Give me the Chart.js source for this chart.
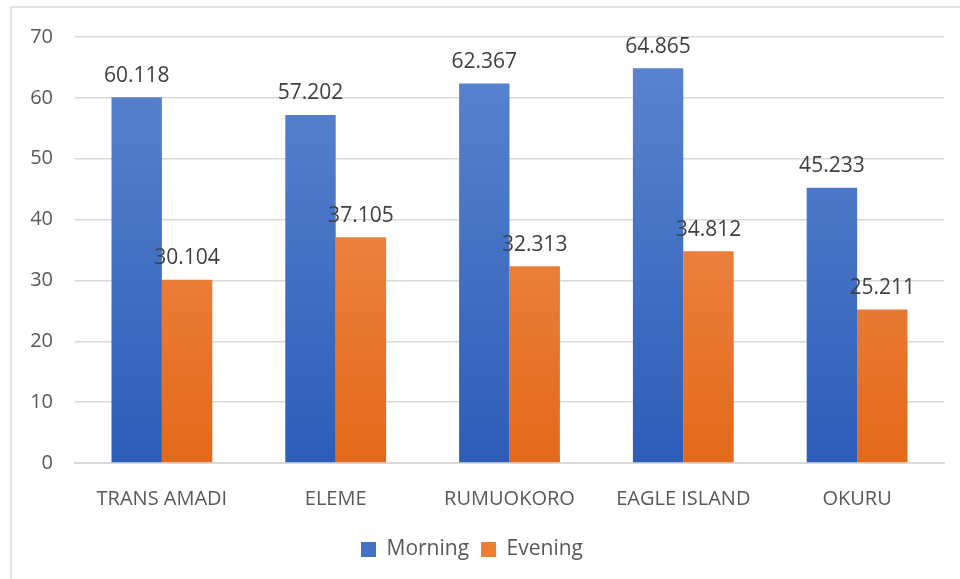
<!DOCTYPE html>
<html>
<head>
<meta charset="utf-8">
<script src="https://cdn.jsdelivr.net/npm/chart.js@4"></script>
<style>
  html, body { margin: 0; padding: 0; background: #fff; }
  #wrap { width: 960px; height: 579px; position: relative; }
</style>
</head>
<body>
<div id="wrap"><canvas id="myChart"></canvas></div>
<script>
const categories = ['TRANS AMADI', 'ELEME', 'RUMUOKORO', 'EAGLE ISLAND', 'OKURU']
const morning = [60.118, 57.202, 62.367, 64.865, 45.233]
const evening = [30.104, 37.105, 32.313, 34.812, 25.211]
const seriesNames = ['Morning', 'Evening']

const fontFamily = "'Open Sans', 'Liberation Sans', sans-serif"
const ctx = document.getElementById('myChart')

function gradiente(chart, topo, base) {
    const area = chart.chartArea
    if (!area) return base
    const g = chart.ctx.createLinearGradient(0, area.top, 0, area.bottom)
    g.addColorStop(0, topo)
    g.addColorStop(1, base)
    return g
}

// moldura cinza do grafico
const moldura = {
    id: 'moldura',
    beforeDraw(chart) {
        const c = chart.ctx
        c.save()
        c.strokeStyle = '#d9d9d9'
        c.lineWidth = 1.5
        c.strokeRect(11, 7, 1000, 1000)
        c.restore()
    }
}

// rotulos de valor acima das barras
const rotulos = {
    id: 'rotulos',
    afterDatasetsDraw(chart) {
        const c = chart.ctx
        c.save()
        c.font = '21px ' + fontFamily
        c.fillStyle = '#404040'
        c.textAlign = 'center'
        c.textBaseline = 'bottom'
        chart.data.datasets.forEach((ds, i) => {
            chart.getDatasetMeta(i).data.forEach((bar, j) => {
                c.fillText(ds.data[j].toFixed(3), bar.x, bar.y - 11)
            })
        })
        c.restore()
    }
}

new Chart(ctx, {
    type: 'bar',
    data: {
        labels: categories,
        datasets: [{
            label: seriesNames[0],
            data: morning,
            backgroundColor: c => gradiente(c.chart, '#5d86d0', '#2d5db8'),
            barPercentage: 1,
            categoryPercentage: 0.58
        },
        {
            label: seriesNames[1],
            data: evening,
            backgroundColor: c => gradiente(c.chart, '#f3965e', '#e3691a'),
            barPercentage: 1,
            categoryPercentage: 0.58
        }]
    },
    options: {
        responsive: true,
        maintainAspectRatio: false,
        animation: false,
        layout: { padding: { top: 37, right: 16, left: 0, bottom: 9 } },
        plugins: {
            legend: {
                position: 'bottom',
                labels: {
                    font: { family: fontFamily, size: 21 },
                    color: '#595959',
                    boxWidth: 15,
                    boxHeight: 15,
                    padding: 12,
                    generateLabels(chart) {
                        return chart.data.datasets.map((ds, i) => ({
                            text: ds.label,
                            fillStyle: i == 0 ? '#4472c4' : '#ed7d31',
                            strokeStyle: 'transparent',
                            lineWidth: 0,
                            fontColor: '#595959',
                            datasetIndex: i
                        }))
                    }
                }
            },
            tooltip: { enabled: false }
        },
        scales: {
            x: {
                grid: { display: false },
                border: { color: '#d9d9d9', width: 2 },
                ticks: { font: { family: fontFamily, size: 20 }, color: '#595959', padding: 16 },
                afterFit(s) { s.height = 64 }
            },
            y: {
                min: 0,
                max: 70,
                ticks: { stepSize: 10, font: { family: fontFamily, size: 20 }, color: '#595959', padding: 22 },
                grid: { color: '#d9d9d9', lineWidth: 1.5, drawTicks: false },
                border: { display: false },
                afterFit(s) { s.width = 75 }
            }
        }
    },
    plugins: [moldura, rotulos]
})
</script>
</body>
</html>
